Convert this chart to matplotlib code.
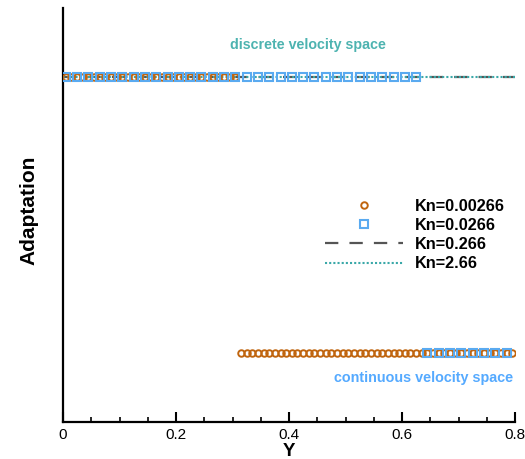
import matplotlib
matplotlib.use('Agg')
import matplotlib.pyplot as plt
from matplotlib.ticker import MultipleLocator

plt.rcParams['font.family'] = ['Liberation Sans', 'DejaVu Sans']

# cell centres across the channel (80 cells of width 0.01)
y_cells = [0.005 + 0.01 * i for i in range(80)]

# adaptation flag per cell: 1 = discrete velocity space, 0 = continuous
adapt_kn00266 = [1] * 31 + [0] * 49
adapt_kn0266 = [1] * 64 + [0] * 16
adapt_kn266 = [1] * 80
adapt_kn266b = [1] * 80

labels = ['Kn=0.00266', 'Kn=0.0266', 'Kn=0.266', 'Kn=2.66']

fig = plt.figure(figsize=(5.25, 4.59), dpi=100)
ax = fig.add_axes([0.12, 0.0806, 0.861, 0.902])

ax.plot(y_cells, adapt_kn00266, linestyle='none', marker='o', ms=4.7,
        mfc='none', mec='#c0650f', mew=1.4, label=labels[0], zorder=3)
ax.plot(y_cells, adapt_kn0266, linestyle='none', marker='s', ms=5.6,
        mfc='none', mec='#5aaaf0', mew=1.5, markevery=2, label=labels[1], zorder=4)
ax.plot([0] + y_cells + [0.8], [1] + adapt_kn266 + [1], color='#555555', lw=1.6,
        dashes=(6, 5), label=labels[2], zorder=2)
ax.plot([0] + y_cells + [0.8], [1] + adapt_kn266b + [1], color='#3aa8a8', lw=1.5,
        linestyle=(0, (1, 1)), label=labels[3], zorder=2)

ax.text(0.433, 1.116, 'discrete velocity space', color='#4db3b0',
        fontsize=10.3, fontweight='bold', ha='center', va='center')
ax.text(0.639, -0.092, 'continuous velocity space', color='#55aaff',
        fontsize=10.4, fontweight='bold', ha='center', va='center')

ax.set_xlim(0, 0.8)
ax.set_ylim(-0.25, 1.25)
ax.set_yticks([])
ax.xaxis.set_major_locator(MultipleLocator(0.2))
ax.xaxis.set_minor_locator(MultipleLocator(0.05))
ax.set_xticks([0, 0.2, 0.4, 0.6, 0.8])
ax.set_xticklabels(['0', '0.2', '0.4', '0.6', '0.8'])
ax.tick_params(axis='x', which='major', direction='in', length=7, width=1.5,
               labelsize=11, pad=4)
ax.tick_params(axis='x', which='minor', direction='in', length=3.6, width=1.2)

for side in ['top', 'right']:
    ax.spines[side].set_visible(False)
for side in ['left', 'bottom']:
    ax.spines[side].set_linewidth(1.6)

ax.set_xlabel('Y', fontsize=13.5, fontweight='bold', labelpad=1)
ax.set_ylabel('Adaptation', fontsize=15, fontweight='bold', labelpad=18)
ax.yaxis.set_label_coords(-0.055, 0.512)

ax.legend(loc='center left', bbox_to_anchor=(0.562, 0.452), frameon=False,
          numpoints=1, handlelength=4.8, handletextpad=0.7, labelspacing=0.26,
          borderpad=0, prop={'size': 11.7, 'weight': 'bold'})

fig.savefig('out.png', dpi=100)
